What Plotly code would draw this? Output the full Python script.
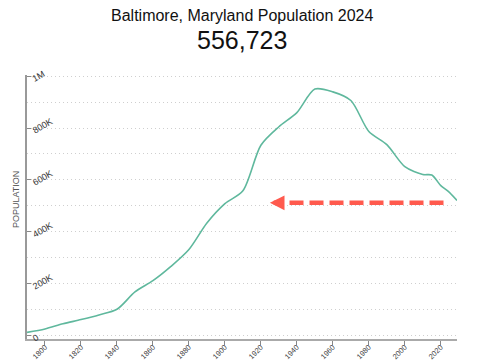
import plotly.graph_objects as go

# ---- data ----
years = [1790, 1800, 1810, 1820, 1830, 1840, 1850, 1860, 1870, 1880, 1890, 1900,
         1910, 1920, 1930, 1940, 1950, 1960, 1970, 1980, 1990, 2000, 2010, 2015,
         2020, 2024, 2029]
population = [13503, 26514, 46555, 62738, 80620, 102313, 169054, 212418, 267354,
              332313, 434439, 508957, 558485, 733826, 804874, 859100, 949708,
              939024, 905759, 786775, 736014, 651154, 620961, 619000, 578000,
              556723, 521000]

title_text = "Baltimore, Maryland Population 2024"
headline_value = "556,723"
y_axis_title = "POPULATION"

y_tick_vals = [0, 200000, 400000, 600000, 800000, 1000000]
y_tick_text = ["0", "200K", "400K", "600K", "800K", "1M"]
x_tick_vals = list(range(1800, 2021, 20))
x_tick_text = [str(v) for v in x_tick_vals]

# arrow annotation (data coordinates)
arrow_tail_year = 2021.5
arrow_head_year = 1925
arrow_level = 512000

LINE_COLOR = "#5fb89d"
ARROW_COLOR = "#ff5a4e"
FONT = "Liberation Sans, Arial, sans-serif"

# The page body has an 8px default margin; the figure is sized so that
# the plot area lands at x 27..457, y 75..339 of the window.
PAGE_OFFSET = 8

fig = go.Figure()

fig.add_trace(go.Scatter(
    x=years, y=population, mode="lines",
    line=dict(color=LINE_COLOR, width=1.6, shape="spline", smoothing=0.8),
    hoverinfo="skip", showlegend=False,
))

# dashed arrow shaft
fig.add_trace(go.Scatter(
    x=[arrow_tail_year, arrow_head_year + 5], y=[arrow_level, arrow_level],
    mode="lines", line=dict(color=ARROW_COLOR, width=4.5, dash="14px,6px"),
    hoverinfo="skip", showlegend=False,
))

fig.add_annotation(
    x=arrow_head_year, y=arrow_level, xref="x", yref="y",
    ax=12, ay=0, axref="pixel", ayref="pixel",
    showarrow=True, arrowhead=2, arrowsize=0.65, arrowwidth=4.5,
    arrowcolor=ARROW_COLOR, text="",
)

fig.add_annotation(
    text=title_text, xref="paper", yref="paper", x=0.5, y=1,
    xanchor="center", yanchor="middle", showarrow=False,
    font=dict(size=16, color="#111", family=FONT),
    yshift=60,
)
fig.add_annotation(
    text=headline_value, xref="paper", yref="paper", x=0.5, y=1,
    xanchor="center", yanchor="middle", showarrow=False,
    font=dict(size=25, color="#111", family=FONT),
    yshift=35,
)
fig.add_annotation(
    text=y_axis_title, xref="paper", yref="paper", x=-11 / 430, y=0.5,
    xanchor="center", yanchor="middle", showarrow=False, textangle=-90,
    font=dict(size=9, color="#555", family=FONT),
    yshift=7,
)

# y tick labels, slanted and sitting inside the plot next to the axis
for val, txt in zip(y_tick_vals, y_tick_text):
    fig.add_annotation(
        text=txt, xref="paper", yref="y", x=0, y=val,
        xanchor="left", yanchor="bottom", showarrow=False, textangle=-30,
        font=dict(size=9, color="#333", family=FONT),
        xshift=1, yshift=-10,
    )

fig.update_layout(
    width=485 - PAGE_OFFSET, height=360 - PAGE_OFFSET,
    margin=dict(l=27 - PAGE_OFFSET, r=28, t=75 - PAGE_OFFSET, b=21, autoexpand=False),
    paper_bgcolor="white", plot_bgcolor="white",
    font=dict(family=FONT, color="#333"),
)

fig.update_xaxes(
    range=[1790, 2029], automargin=False,
    tickvals=x_tick_vals, ticktext=x_tick_text, tickangle=-45,
    tickfont=dict(size=7.5, color="#444"), ticklabelstandoff=-5,
    ticks="outside", ticklen=4, tickcolor="#888", tickwidth=1,
    showline=True, linecolor="#aaa", linewidth=2,
    showgrid=False, zeroline=False,
)

fig.update_yaxes(
    range=[-12000, 1004000], automargin=False,
    tickvals=y_tick_vals, showticklabels=False,
    ticks="inside", ticklen=4, tickcolor="#888",
    showline=True, linecolor="#999", linewidth=2,
    showgrid=True, gridcolor="#cfcfcf", griddash="1px,3px", gridwidth=1,
    minor=dict(dtick=100000, tick0=0, showgrid=True, gridcolor="#cfcfcf",
               griddash="1px,3px", gridwidth=1),
    zeroline=False,
)

fig.write_html("out.html")
